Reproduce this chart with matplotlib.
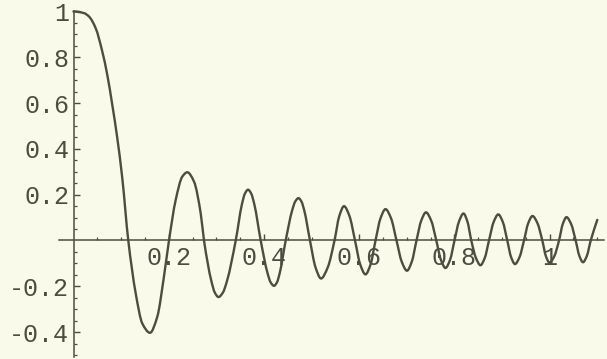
import matplotlib
matplotlib.use("Agg")
import matplotlib.pyplot as plt
from matplotlib.path import Path
from matplotlib.patches import PathPatch
import numpy as np

# Values (x, y) along the curve
x_vals = [0.0, 0.022, 0.0326, 0.0466, 0.0605, 0.0710, 0.0815, 0.0920, 0.1025, 0.1151,
          0.1307, 0.1445, 0.1607, 0.1760, 0.1900, 0.2006,
          0.2147, 0.2286, 0.2391, 0.2532, 0.2672, 0.2742,
          0.2894, 0.2970, 0.3046, 0.3137, 0.3227, 0.3408,
          0.3537, 0.3602, 0.3666, 0.3733, 0.3800, 0.3933,
          0.4073, 0.4142, 0.4212, 0.4274, 0.4335, 0.4458,
          0.4593, 0.4660, 0.4727, 0.4787, 0.4848, 0.4968,
          0.5084, 0.5200, 0.5342, 0.5483,
          0.5583, 0.5683, 0.5799, 0.5914,
          0.6024, 0.6134, 0.6240, 0.6345,
          0.6450, 0.6555, 0.6671, 0.6786,
          0.6896, 0.7006, 0.7106, 0.7206,
          0.7306, 0.7405, 0.7514, 0.7622,
          0.7719, 0.7815, 0.7910, 0.8004,
          0.8099, 0.8193, 0.8275, 0.8357,
          0.8454, 0.8550, 0.8640, 0.8729,
          0.8827, 0.8924, 0.9019, 0.9113,
          0.9194, 0.9275, 0.9370, 0.9464,
          0.9554, 0.9643, 0.9746, 0.9849,
          0.9925, 1.0000, 1.0100, 1.0200,
          1.0279, 1.0357, 1.0454, 1.0550,
          1.0627, 1.0704, 1.0785, 1.0866,
          1.1004]
y_vals = [1.0, 0.993, 0.978, 0.927, 0.825, 0.723, 0.592, 0.447, 0.272, 0.0,
          -0.231, -0.362, -0.403, -0.333, -0.158, 0.0,
          0.177, 0.279, 0.298, 0.257, 0.119, 0.0,
          -0.175, -0.228, -0.247, -0.228, -0.175, 0.0,
          0.157, 0.205, 0.222, 0.205, 0.157, 0.0,
          -0.140, -0.183, -0.198, -0.183, -0.140, 0.0,
          0.131, 0.171, 0.185, 0.171, 0.131, 0.0,
          -0.117, -0.166, -0.117, 0.0,
          0.106, 0.150, 0.106, 0.0,
          -0.105, -0.148, -0.105, 0.0,
          0.097, 0.137, 0.097, 0.0,
          -0.093, -0.132, -0.093, 0.0,
          0.087, 0.123, 0.087, 0.0,
          -0.085, -0.120, -0.085, 0.0,
          0.083, 0.118, 0.083, 0.0,
          -0.076, -0.108, -0.076, 0.0,
          0.081, 0.114, 0.081, 0.0,
          -0.073, -0.103, -0.073, 0.0,
          0.076, 0.107, 0.076, 0.0,
          -0.069, -0.097, -0.069, 0.0,
          0.072, 0.102, 0.072, 0.0,
          -0.067, -0.095, -0.067, 0.0,
          0.090]

x_major = [0.2, 0.4, 0.6, 0.8, 1.0]
x_major_labels = ["0.2", "0.4", "0.6", "0.8", "1"]
y_major = [-0.4, -0.2, 0.2, 0.4, 0.6, 0.8, 1.0]
y_major_labels = ["-0.4", "-0.2", "0.2", "0.4", "0.6", "0.8", "1"]
x_minor = [round(0.05 * i, 2) for i in range(1, 23) if i % 4 != 0]
y_minor = [round(0.05 * i, 2) for i in range(-10, 21) if i % 4 != 0]

bg = "#fafaea"
ink = "#4c4c40"


def smooth_path(xs, ys):
    """Smooth (shape-preserving cubic) Bezier path through the read points."""
    x = np.asarray(xs, float)
    y = np.asarray(ys, float)
    h = np.diff(x)
    d = np.diff(y) / h
    m = np.zeros_like(x)
    for i in range(1, len(x) - 1):
        if d[i - 1] * d[i] > 0:
            w1 = 2 * h[i] + h[i - 1]
            w2 = h[i] + 2 * h[i - 1]
            m[i] = (w1 + w2) / (w1 / d[i - 1] + w2 / d[i])
    m[0] = 0.0
    m[-1] = d[-1]
    verts = [(x[0], y[0])]
    codes = [Path.MOVETO]
    for i in range(len(x) - 1):
        verts += [(x[i] + h[i] / 3, y[i] + m[i] * h[i] / 3),
                  (x[i + 1] - h[i] / 3, y[i + 1] - m[i + 1] * h[i] / 3),
                  (x[i + 1], y[i + 1])]
        codes += [Path.CURVE4] * 3
    return Path(verts, codes)


plt.rcParams["axes.unicode_minus"] = False
fig = plt.figure(figsize=(6.07, 3.59), dpi=100)
fig.patch.set_facecolor(bg)
ax = fig.add_axes([0, 0, 1, 1])
ax.set_facecolor(bg)

ax.set_xlim(-73.5 / 476, (607 - 73.5) / 476)
ax.set_ylim((240.5 - 359) / 229, 240.5 / 229)

ax.add_patch(PathPatch(smooth_path(x_vals, y_vals), fill=False, edgecolor=ink,
                       lw=1.7, joinstyle="round", capstyle="round", zorder=3))

for s in ["top", "right"]:
    ax.spines[s].set_visible(False)
ax.spines["left"].set_position(("data", 0))
ax.spines["bottom"].set_position(("data", 0))
ax.spines["left"].set_bounds(-0.51, 1.0)
ax.spines["bottom"].set_bounds(-0.03, 1.115)
for s in ["left", "bottom"]:
    ax.spines[s].set_color(ink)
    ax.spines[s].set_linewidth(1.1)

ax.set_xticks(x_major)
ax.set_xticklabels(x_major_labels)
ax.set_yticks(y_major)
ax.set_yticklabels(y_major_labels)
ax.set_xticks(x_minor, minor=True)
ax.set_yticks(y_minor, minor=True)

ax.tick_params(which="major", direction="in", length=4, width=1, color=ink,
               labelcolor=ink, labelsize=18)
ax.tick_params(which="minor", direction="in", length=2, width=0.9, color=ink)
ax.tick_params(axis="y", which="major", pad=3)
ax.tick_params(axis="x", which="major", pad=4)
for lab in ax.get_xticklabels() + ax.get_yticklabels():
    lab.set_family("Liberation Mono")

fig.savefig("out.png", dpi=100, facecolor=bg)
